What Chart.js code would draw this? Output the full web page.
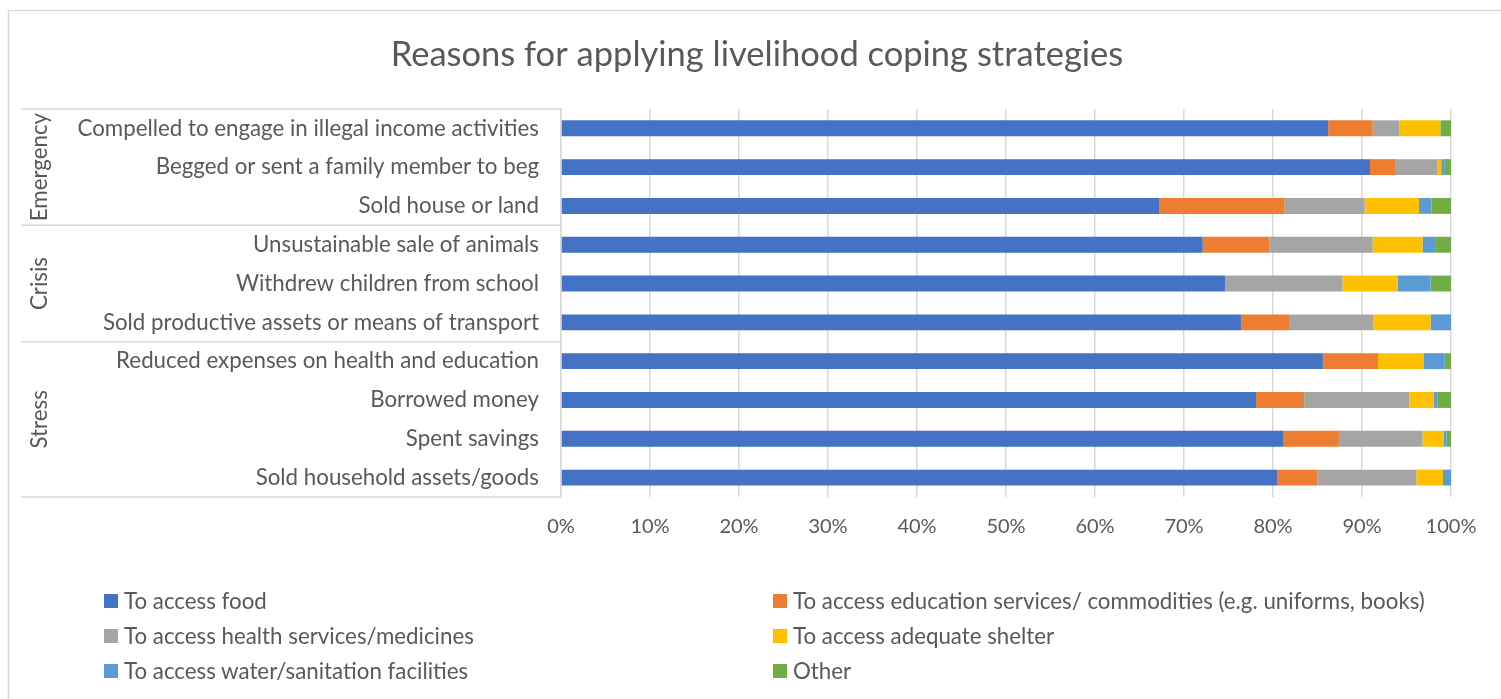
<!DOCTYPE html>
<html>
<head>
<meta charset="utf-8">
<script src="https://cdn.jsdelivr.net/npm/chart.js@4/dist/chart.umd.min.js"></script>
<style>
    html, body { margin: 0; padding: 0; background: #fff; }
    .frame { position: relative; width: 1501px; height: 699px; overflow: hidden; }
    .legend {
        position: absolute; left: 104px; top: 583px; margin: 0; padding: 0; list-style: none;
        display: grid; grid-template-columns: 669px auto; grid-auto-rows: 35px;
        font-family: Lato, sans-serif; font-size: 22.3px; color: #595959;
    }
    .legend li { display: flex; align-items: center; white-space: nowrap; }
    .legend i { display: inline-block; width: 14px; height: 14px; margin-right: 6px; }
</style>
</head>
<body>
<div class="frame">
    <canvas id="coping" width="1501" height="699"></canvas>
    <ul class="legend" id="coping-legend"></ul>
</div>
<script>
const strategies = [
    'Compelled to engage in illegal income activities',
    'Begged or sent a family member to beg',
    'Sold house or land',
    'Unsustainable sale of animals',
    'Withdrew children from school',
    'Sold productive assets or means of transport',
    'Reduced expenses on health and education',
    'Borrowed money',
    'Spent savings',
    'Sold household assets/goods',
];
const groups = [
    { name: 'Emergency', from: 0, to: 2 },
    { name: 'Crisis', from: 3, to: 5 },
    { name: 'Stress', from: 6, to: 9 },
];

// share of households (%) per reason
const food = [86.2, 90.9, 67.2, 72.1, 74.6, 76.4, 85.6, 78.1, 81.2, 80.5];
const education = [5.0, 2.9, 14.1, 7.5, 0, 5.4, 6.2, 5.4, 6.2, 4.5];
const health = [3.0, 4.7, 9.0, 11.6, 13.2, 9.5, 0, 11.8, 9.4, 11.1];
const shelter = [4.6, 0.4, 6.1, 5.6, 6.2, 6.4, 5.1, 2.8, 2.4, 3.0];
const water = [0, 0.4, 1.4, 1.5, 3.7, 2.3, 2.4, 0.4, 0.3, 0.9];
const other = [1.2, 0.7, 2.2, 1.7, 2.3, 0, 0.7, 1.5, 0.5, 0];

const xTicks = [0, 10, 20, 30, 40, 50, 60, 70, 80, 90, 100];

const series = [
    ['To access food', food, '#4472C4'],
    ['To access education services/ commodities (e.g. uniforms, books)', education, '#ED7D31'],
    ['To access health services/medicines', health, '#A5A5A5'],
    ['To access adequate shelter', shelter, '#FFC000'],
    ['To access water/sanitation facilities', water, '#5B9BD5'],
    ['Other', other, '#70AD47'],
];

const textColor = '#595959';
const lineColor = '#d9d9d9';
const labelSize = 22.3;
Chart.defaults.font.family = 'Lato, sans-serif';
Chart.defaults.color = textColor;

// group names on the left plus the separator rules between groups
const groupAxis = {
    id: 'groupAxis',
    afterDraw(chart) {
        const { ctx, chartArea, scales: { y } } = chart;
        const half = (y.getPixelForValue(1) - y.getPixelForValue(0)) / 2;
        ctx.save();
        ctx.strokeStyle = lineColor;
        ctx.lineWidth = 1.5;
        ctx.beginPath();
        ctx.rect(8.5, 10.5, 1600, 800);
        ctx.stroke();

        const edges = [y.getPixelForValue(0) - half, ...groups.map((g) => y.getPixelForValue(g.to) + half)];
        edges.forEach((py) => {
            ctx.beginPath();
            ctx.moveTo(21, py);
            ctx.lineTo(chartArea.left, py);
            ctx.stroke();
        });

        ctx.fillStyle = textColor;
        ctx.font = `${labelSize}px Lato, sans-serif`;
        ctx.textAlign = 'center';
        ctx.textBaseline = 'middle';
        groups.forEach((g) => {
            const mid = (y.getPixelForValue(g.from) + y.getPixelForValue(g.to)) / 2;
            ctx.save();
            ctx.translate(40, mid);
            ctx.rotate(-Math.PI / 2);
            ctx.fillText(g.name, 0, 0);
            ctx.restore();
        });
        ctx.restore();
    },
};

const chart = new Chart(document.getElementById('coping'), {
    type: 'bar',
    data: {
        labels: strategies,
        datasets: series.map(([label, data, color]) => ({
            label,
            data,
            backgroundColor: color,
            borderWidth: 0,
            categoryPercentage: 1,
            barPercentage: 0.41,
        })),
    },
    options: {
        indexAxis: 'y',
        responsive: false,
        animation: false,
        devicePixelRatio: 1,
        layout: { padding: { top: 10, right: 50, bottom: 142, left: 63 } },
        plugins: {
            legend: { display: false },
            tooltip: { enabled: false },
            title: {
                display: true,
                text: 'Reasons for applying livelihood coping strategies',
                color: textColor,
                font: { size: 34.5, weight: 'normal' },
                padding: { top: 24, bottom: 33.5 },
            },
        },
        scales: {
            x: {
                stacked: true,
                min: 0,
                max: 100,
                afterBuildTicks: (scale) => {
                    scale.ticks = xTicks.map((value) => ({ value }));
                },
                ticks: {
                    callback: (value) => `${value}%`,
                    font: { size: 20 },
                    padding: 18,
                },
                grid: { color: lineColor, lineWidth: 1.5, drawTicks: false },
                border: { display: false },
            },
            y: {
                stacked: true,
                afterFit: (scale) => {
                    scale.width = 498;
                },
                ticks: { font: { size: labelSize }, padding: 22, autoSkip: false },
                grid: { display: false, drawTicks: false },
                border: { display: true, color: lineColor, width: 1.5 },
            },
        },
    },
    plugins: [groupAxis],
});

const legend = document.getElementById('coping-legend');
chart.data.datasets.forEach((dataset) => {
    const item = document.createElement('li');
    item.innerHTML = `<i style="background:${dataset.backgroundColor}"></i><span>${dataset.label}</span>`;
    legend.appendChild(item);
});
</script>
</body>
</html>
